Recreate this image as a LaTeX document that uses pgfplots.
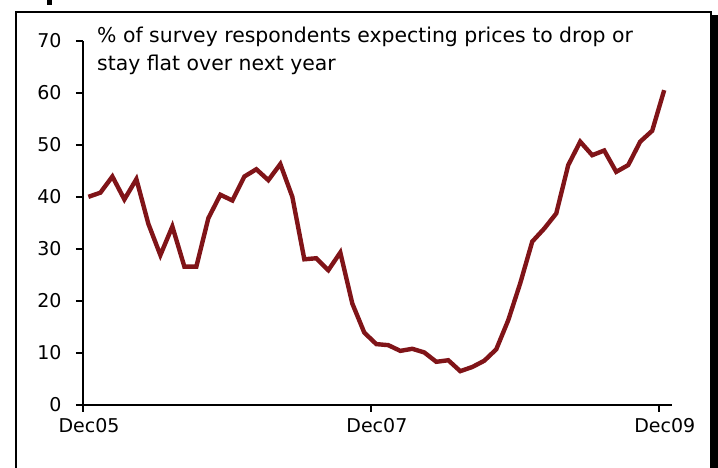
\documentclass[border=0pt]{standalone}
\usepackage{pgfplots}
\pgfplotsset{compat=1.18}
\usepackage{fontspec}
\setmainfont{DejaVu Sans}
\definecolor{linered}{RGB}{128,20,24}
\begin{document}
\begin{tikzpicture}[x=1pt,y=1pt]
\useasboundingbox (0,0) rectangle (718,468);
\draw[line width=2pt] (16,-5) -- (16,456) -- (711,456) -- (711,-5);
\fill (711,-5) rectangle (718,453);
\fill (47,463) rectangle (52,468);
\begin{axis}[
  at={(83pt,63pt)}, anchor=south west,
  scale only axis, width=589pt, height=364.3pt,
  xmin=0, xmax=49.1, ymin=0, ymax=70,
  axis x line=bottom, axis y line=left,
  axis line style={line width=1.6pt, -},
  tick style={line width=1.6pt, black},
  tick align=outside, major tick length=7pt,
  xtick={0,24,48}, xticklabels={Dec05,Dec07,Dec09},
  ytick={0,10,...,70},
  /pgf/number format/assume math mode=true,
  tick label style={font=\fontsize{19}{23}\selectfont},
  xticklabel style={xshift=6pt, yshift=-3pt},
  yticklabel style={xshift=-11pt},
  clip=false,
]
\addplot[color=linered, line width=4.4pt, line join=miter, mark=none] table {
x y
0.45 40.0
1.45 40.8
2.45 43.9
3.45 39.5
4.45 43.4
5.45 34.8
6.45 28.8
7.45 34.3
8.45 26.6
9.45 26.6
10.45 35.9
11.45 40.4
12.45 39.3
13.45 43.9
14.45 45.3
15.45 43.2
16.45 46.3
17.45 40.0
18.45 28.0
19.45 28.2
20.45 25.9
21.45 29.3
22.45 19.5
23.45 13.9
24.45 11.7
25.45 11.5
26.45 10.4
27.45 10.8
28.45 10.1
29.45 8.3
30.45 8.6
31.45 6.5
32.45 7.3
33.45 8.5
34.45 10.7
35.45 16.3
36.45 23.4
37.45 31.4
38.45 33.9
39.45 36.8
40.45 46.1
41.45 50.6
42.45 48.0
43.45 48.9
44.45 44.8
45.45 46.1
46.45 50.6
47.45 52.7
48.45 60.5
};
\end{axis}
\node[anchor=base west, inner sep=0pt, font=\fontsize{20.4}{24}\selectfont] at (97,425.7) {\% of survey respondents expecting prices to drop or};
\node[anchor=base west, inner sep=0pt, font=\fontsize{20.4}{24}\selectfont] at (97,397.3) {stay flat over next year};
\end{tikzpicture}
\end{document}
